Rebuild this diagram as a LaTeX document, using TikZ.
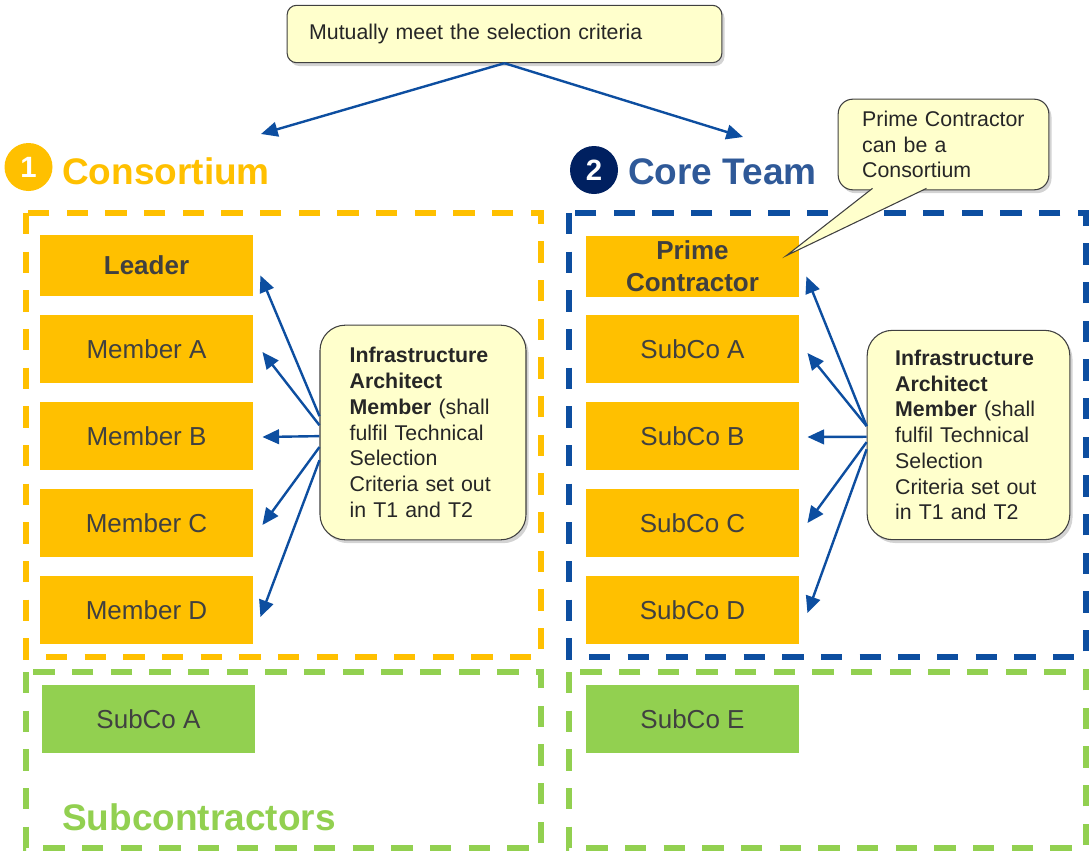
\documentclass[tikz,border=0pt]{standalone}
\usepackage{fontspec}
\setmainfont{Liberation Sans}
\usetikzlibrary{arrows.meta,shadows}
\definecolor{consyellow}{RGB}{255,192,0}
\definecolor{teamblue}{RGB}{13,78,160}
\definecolor{teamnavy}{RGB}{0,32,96}
\definecolor{titleblue}{RGB}{47,89,152}
\definecolor{subgreen}{RGB}{146,208,80}
\definecolor{notefill}{RGB}{255,255,204}
\definecolor{noteline}{RGB}{64,64,64}
\definecolor{boxtext}{RGB}{64,64,64}
\definecolor{notetext}{RGB}{38,38,38}

\begin{document}
\begin{tikzpicture}[x=0.75pt,y=-0.75pt,
    member/.style={fill=consyellow, text=boxtext, minimum width=160pt,
      minimum height=51pt, inner sep=0pt, align=center,
      font=\fontsize{19.5}{24}\selectfont},
    lead/.style={member, minimum height=46pt,
      font=\fontsize{19.5}{24}\selectfont\bfseries},
    subco/.style={member, fill=subgreen},
    note/.style={draw=noteline, line width=0.8pt, fill=notefill,
      text=notetext, align=left, inner sep=0pt,
      font=\fontsize{16}{19.3}\selectfont,
      drop shadow={shadow xshift=2pt, shadow yshift=-2.5pt, opacity=.35}},
    frame/.style={line width=3.9pt, dash pattern=on 16pt off 13pt},
    link/.style={draw=teamblue, line width=1.8pt,
      -{Triangle[length=12.5pt,width=11pt]}},
    badge/.style={circle, inner sep=0pt, minimum size=36pt, text=white,
      font=\fontsize{22}{22}\selectfont\bfseries},
    heading/.style={anchor=base west, inner sep=0pt,
      font=\fontsize{27.75}{30}\selectfont\bfseries}]

  \useasboundingbox (0,0) rectangle (1091,853);

  % dashed frames
  \draw[frame, consyellow] (26,213) rectangle (541,657);
  \draw[frame, teamblue] (569,213) rectangle (1086,657);
  \draw[frame, subgreen] (26,672) rectangle (541,848);
  \draw[frame, subgreen] (569,672) rectangle (1086,848);

  % headings
  \node[badge, fill=consyellow] (one) at (28.5,167) {1};
  \node[heading, text=consyellow] (cons) at (62,184) {Consortium};
  \node[badge, fill=teamnavy] (two) at (594,170) {2};
  \node[heading, text=titleblue] (team) at (628,184) {Core Team};
  \node[heading, text=subgreen] (subs) at (62,830) {Subcontractors};

  % consortium
  \node[lead] (leader) at (146.5,265.5) {Leader};
  \node[member] (mema) at (146.5,349) {Member A};
  \node[member] (memb) at (146.5,436) {Member B};
  \node[member] (memc) at (146.5,523) {Member C};
  \node[member] (memd) at (146.5,610) {Member D};

  % core team
  \node[lead] (prime) at (692.5,266.5) {Prime\\Contractor};
  \node[member] (suba) at (692.5,349) {SubCo A};
  \node[member] (subb) at (692.5,436) {SubCo B};
  \node[member] (subc) at (692.5,523) {SubCo C};
  \node[member] (subd) at (692.5,610) {SubCo D};

  % subcontractors
  \node[subco] (subla) at (148.5,719) {SubCo A};
  \node[subco] (suble) at (692.5,719) {SubCo E};

  % notes
  \node[note, rounded corners=7pt, minimum width=326pt, minimum height=43pt,
    text width=293pt] (crit) at (504.5,34)
    {Mutually meet the selection criteria};
  \node[note, rounded corners=19pt, minimum width=154.5pt,
    minimum height=161pt, text width=110pt] (lnote) at (423,432.5)
    {\textbf{Infrastructure}\\\textbf{Architect}\\\textbf{Member} (shall\\
     fulfil Technical\\Selection\\Criteria set out\\in T1 and T2};
  \node[note, rounded corners=19pt, minimum width=152pt,
    minimum height=157pt, text width=110pt] (rnote) at (968.5,435)
    {\textbf{Infrastructure}\\\textbf{Architect}\\\textbf{Member} (shall\\
     fulfil Technical\\Selection\\Criteria set out\\in T1 and T2};
  \node[note, rounded corners=11pt, minimum width=158pt, minimum height=68pt,
    text width=122pt] (pnote) at (943.5,144.5)
    {Prime Contractor\\can be a\\Consortium};
  \filldraw[draw=noteline, line width=0.8pt, fill=notefill, line join=miter]
    ([shift={(-71,-2)}]pnote.south) -- ([shift={(-13,20)}]prime.north east)
    -- ([shift={(-17,-2)}]pnote.south);

  % connectors
  \coordinate (constip) at (261,134);
  \coordinate (teamtip) at (743,137);
  \draw[link] (crit.south) -- (constip);
  \draw[link] (crit.south) -- (teamtip);

  \draw[link] (lnote.171) -- ([shift={(7,10)}]leader.east);
  \draw[link] (lnote.176) -- ([shift={(9,3)}]mema.east);
  \draw[link] (lnote.182) -- ([shift={(9,1)}]memb.east);
  \draw[link] (lnote.188) -- ([shift={(9,2)}]memc.east);
  \draw[link] (lnote.195) -- ([shift={(7,7)}]memd.east);

  \draw[link] (rnote.175) -- ([shift={(7,10)}]prime.east);
  \draw[link] (rnote.175) -- ([shift={(8,4)}]suba.east);
  \draw[link] (rnote.181) -- ([shift={(8,1)}]subb.east);
  \draw[link] (rnote.184) -- ([shift={(8,0)}]subc.east);
  \draw[link] (rnote.188) -- ([shift={(8,3)}]subd.east);
\end{tikzpicture}
\end{document}
